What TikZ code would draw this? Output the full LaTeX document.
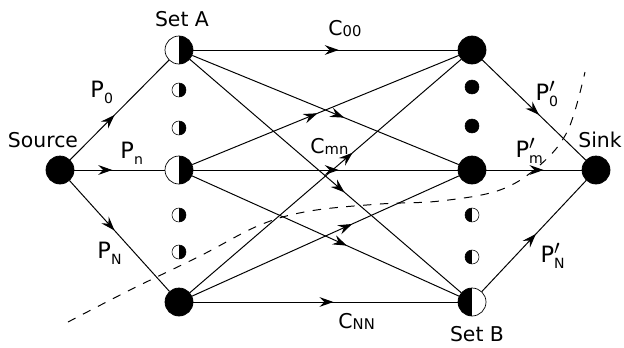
\documentclass[tikz,border=0pt]{standalone}
\usepackage{fontspec}
\setmainfont{DejaVu Sans}
\usetikzlibrary{arrows.meta,decorations.markings}

% label with lowered subscript, optional prime
\newcommand{\lsub}[2]{#1\raisebox{-0.55ex}{\fontsize{10}{10}\selectfont #2}}
\newcommand{\lcap}[2]{#1\raisebox{-0.12ex}{\fontsize{10.5}{10}\selectfont #2}}
\newcommand{\lprime}[2]{#1\rlap{\raisebox{0.6ex}{\fontsize{15}{15}\selectfont$\prime$}}\raisebox{-0.55ex}{\fontsize{10}{10}\selectfont #2}}

\tikzset{
  big/.style={circle, draw, line width=0.5pt, minimum size=0.7cm, inner sep=0pt},
  small/.style={circle, draw, line width=0.4pt, minimum size=0.35cm, inner sep=0pt},
  full/.style={fill=black},
  halfR/.style={path picture={\fill (path picture bounding box.north) rectangle (path picture bounding box.south east);}},
  halfL/.style={path picture={\fill (path picture bounding box.south west) rectangle (path picture bounding box.north);}},
  txt/.style={font=\fontsize{14.5}{16}\selectfont, inner sep=0pt},
  lab/.style={font=\fontsize{14.5}{16}\selectfont, inner sep=0pt, anchor=base west},
  plab/.style={lab, font=\fontsize{16}{18}\selectfont},
  midarrow/.style={postaction={decorate}, decoration={markings,
      mark=at position #1 with {\arrow{Stealth[length=10pt,width=7pt,inset=3.5pt]}}}},
  midarrow/.default=0.55,
}

\begin{document}
\begin{tikzpicture}[line width=0.7pt]

\useasboundingbox (0,0) rectangle (15.6,8.675);

% nodes
\node[big,full] (src) at (1.5,4.425) {};
\node[big,halfR] (A0) at (4.475,7.425) {};
\node[big,halfR] (An) at (4.475,4.425) {};
\node[big,full] (AN) at (4.475,1.125) {};
\node[small,halfR] (a1) at (4.475,6.425) {};
\node[small,halfR] (a2) at (4.475,5.475) {};
\node[small,halfR] (a3) at (4.475,3.3) {};
\node[small,halfR] (a4) at (4.475,2.375) {};

\node[big,full] (B0) at (11.8,7.425) {};
\node[big,full] (Bm) at (11.8,4.425) {};
\node[big,halfL] (BN) at (11.8,1.125) {};
\node[small,full] (b1) at (11.8,6.5) {};
\node[small,full] (b2) at (11.8,5.525) {};
\node[small,halfL] (b3) at (11.8,3.3) {};
\node[small,halfL] (b4) at (11.8,2.25) {};

\node[big,full] (snk) at (14.9,4.425) {};

% texts
\node[txt] (tA) at (4.55,8.2) {Set A};
\node[txt] (tB) at (11.925,0.325) {Set B};
\node[txt] (tsrc) at (1.075,5.175) {Source};
\node[txt] (tsnk) at (15.0,5.175) {Sink};

\node[plab] (p0) at (2.25,6.25) {\lsub{P}{0}};
\node[plab] (pn) at (3.0,4.725) {\lsub{P}{n}};
\node[plab] (pN) at (2.425,2.225) {\lsub{P}{N}};
\node[lab] (c00) at (8.2,7.8) {\lcap{C}{00}};
\node[lab] (cmn) at (7.75,4.85) {\lcap{C}{mn}};
\node[lab] (cNN) at (8.45,0.475) {\lcap{C}{NN}};
\node[plab] (q0) at (13.375,6.175) {\lprime{P}{0}};
\node[plab] (qm) at (12.875,4.75) {\lprime{P}{m}};
\node[plab] (qN) at (13.5,2.125) {\lprime{P}{N}};

% source side
\draw[midarrow=0.45] (src) -- (A0);
\draw[midarrow=0.42] (src) -- (An);
\draw[midarrow=0.45] (src) -- (AN);

% set A to set B
\draw[midarrow=0.55] (A0) -- (B0);
\draw[midarrow=0.57] (A0) -- (Bm);
\draw[midarrow=0.57] (A0) -- (BN);
\draw[midarrow=0.47] (An) -- (B0);
\draw[midarrow=0.55] (An) -- (Bm);
\draw[midarrow=0.58] (An) -- (BN);
\draw[midarrow=0.6] (AN) -- (B0);
\draw[midarrow=0.6] (AN) -- (Bm);
\draw[midarrow=0.53] (AN) -- (BN);

% sink side
\draw[midarrow=0.55] (B0) -- (snk);
\draw[midarrow=0.6] (Bm) -- (snk);
\draw[midarrow=0.52] (BN) -- (snk);

% cut
\draw[dash pattern=on 6pt off 6pt, line width=0.7pt] plot[smooth, tension=0.6] coordinates {
  (1.7,0.625) (3.25,1.425) (5.0,2.275) (6.5,3.05) (7.75,3.4) (9.5,3.575)
  (11.0,3.65) (12.5,3.925) (13.5,4.55) (14.2,5.425) (14.625,6.875)};

\end{tikzpicture}
\end{document}
